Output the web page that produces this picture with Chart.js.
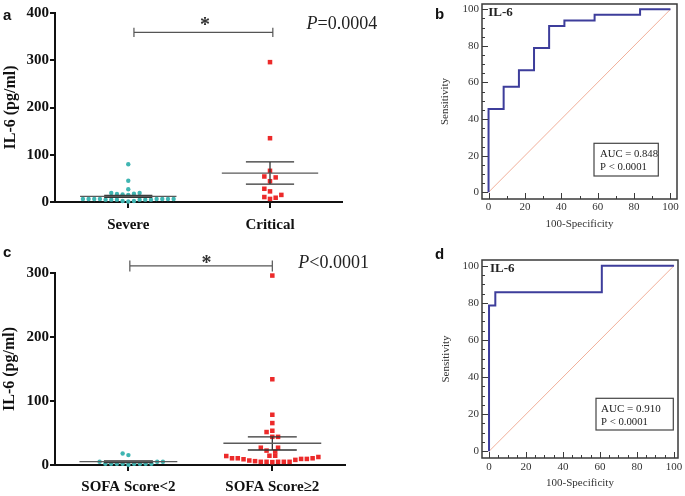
<!DOCTYPE html>
<html>
<head>
<meta charset="utf-8">
<script src="https://cdn.jsdelivr.net/npm/chart.js@4.4.1/dist/chart.umd.min.js"></script>
<style>
  body { margin: 0; background: #fff; }
  .panel { position: absolute; }
</style>
</head>
<body>
<div class="panel" style="left:0;top:0"><canvas id="chartA" width="390" height="240"></canvas></div>
<div class="panel" style="left:420px;top:0"><canvas id="chartB" width="265" height="240"></canvas></div>
<div class="panel" style="left:0;top:245px"><canvas id="chartC" width="390" height="251"></canvas></div>
<div class="panel" style="left:420px;top:245px"><canvas id="chartD" width="265" height="251"></canvas></div>
<script>
// panel a: severe vs critical
const groupsA = ['Severe', 'Critical'];
const severeIL6 = [80, 45, 27, 19, 17, 16, 15, 17.5, 19, 6.5, 6.5, 6.5, 6.5, 5, 5, 5, 2, 1, 2, 5, 5, 5, 6.5, 6.5, 6.5, 6.5];
const severeJitter = [0, 0, 0, -0.12, -0.08, -0.04, 0, 0.04, 0.08, -0.32, -0.28, -0.24, -0.2, -0.16, -0.12, -0.08, -0.04, 0, 0.04, 0.08, 0.12, 0.16, 0.2, 0.24, 0.28, 0.32];
const criticalIL6 = [296, 135, 66, 54, 52, 44, 28, 22.5, 15, 10.5, 6.5, 9];
const criticalJitter = [0, 0, 0, -0.04, 0.04, 0, -0.04, 0, 0.08, -0.04, 0, 0.04];
const meanA = [12, 61];
const semHighA = [14, 85];
const semLowA = [10, 38];
const yTicksA = [0, 100, 200, 300, 400];

// panel c: SOFA score groups
const groupsC = ['SOFA Score<2', 'SOFA Score\u22652'];
const sofaLowIL6 = [18, 15.5, 5, 5, 5, 2, 2, 2, 2, 2, 2, 2, 2, 0.5];
const sofaLowJitter = [-0.04, 0, -0.2, 0.2, 0.24, -0.16, -0.12, -0.08, -0.04, 0.04, 0.08, 0.12, 0.16, 0];
const sofaHighIL6 = [296, 134, 78.5, 65.5, 53.5, 51.5, 44, 44, 27, 27, 22.5, 21, 14.5, 14.5, 14, 10.5, 10.5, 9, 7, 6, 5, 5, 4.5, 5, 5, 5, 8, 9.5, 9.5, 10.5, 12.5];
const sofaHighJitter = [0, 0, 0, 0, 0, -0.04, 0, 0.04, -0.08, 0.04, -0.04, 0.02, -0.02, 0.02, -0.32, -0.28, -0.24, -0.2, -0.16, -0.12, -0.08, -0.04, 0, 0.04, 0.08, 0.12, 0.16, 0.2, 0.24, 0.28, 0.32];
const meanC = [5.2, 34];
const semHighC = [6.6, 43.8];
const semLowC = [3.8, 23.4];
const yTicksC = [0, 100, 200, 300];

// ROC curves
const rocB_fpr = [0, 8.3, 16.7, 25, 33.3, 41.7, 58.3, 83.3, 100];
const rocB_tpr = [0, 45.5, 57.6, 66.7, 78.8, 90.9, 93.9, 97, 100];
const rocD_fpr = [0, 3.4, 61, 100];
const rocD_tpr = [0, 78.6, 85.7, 100];
const rocTicks = [0, 20, 40, 60, 80, 100];

const SERIF = '"Liberation Serif", "Times New Roman", serif';
const SANS = '"Liberation Sans", Arial, sans-serif';
const TEAL = '#3fb5b2';
const RED = '#ec2a2a';

// free text drawn on top of each chart
const notes = {
  id: 'notes',
  afterDraw(chart, args, opts) {
    const ctx = chart.ctx;
    ctx.save();
    (opts.items || []).forEach((it) => {
      let x = it.x;
      ctx.textBaseline = 'alphabetic';
      ctx.fillStyle = it.color || '#111';
      const parts = it.parts || [{ t: it.text, font: it.font }];
      if (it.align === 'center') {
        let w = 0;
        parts.forEach((p) => { ctx.font = p.font; w += ctx.measureText(p.t).width; });
        x -= w / 2;
      }
      parts.forEach((p) => {
        ctx.font = p.font;
        if (it.maxWidth) ctx.fillText(p.t, x, it.y, it.maxWidth);
        else ctx.fillText(p.t, x, it.y);
        x += ctx.measureText(p.t).width;
      });
    });
    (opts.boxes || []).forEach((b) => {
      ctx.strokeStyle = '#444';
      ctx.lineWidth = 1.2;
      ctx.strokeRect(b.x, b.y, b.w, b.h);
    });
    ctx.restore();
  }
};

// box round the ROC plot with inward ticks
const rocFrame = {
  id: 'rocFrame',
  afterDatasetsDraw(chart, args, opts) {
    if (!opts.on) return;
    const { ctx, chartArea: a, scales: { x, y } } = chart;
    ctx.save();
    ctx.strokeStyle = '#3a3a3a';
    ctx.lineWidth = 1.5;
    ctx.strokeRect(a.left, a.top, a.right - a.left, a.bottom - a.top);
    ctx.lineWidth = 1;
    ctx.beginPath();
    for (let v = 0; v <= 100; v += opts.xMinor) {
      const len = v % 20 === 0 ? 6 : 3;
      const px = Math.round(x.getPixelForValue(v)) + 0.5;
      ctx.moveTo(px, a.bottom);
      ctx.lineTo(px, a.bottom - len);
    }
    for (let v = 0; v <= 100; v += opts.yMinor) {
      const len = v % 20 === 0 ? 6 : 3;
      const py = Math.round(y.getPixelForValue(v)) + 0.5;
      ctx.moveTo(a.left, py);
      ctx.lineTo(a.left + len, py);
    }
    ctx.stroke();
    ctx.restore();
  }
};

Chart.register(notes, rocFrame);

function fixSize(w, h) {
  return (scale) => {
    if (w != null) scale.width = w;
    if (h != null) scale.height = h;
    scale.paddingTop = 0;
    scale.paddingBottom = 0;
    scale.paddingLeft = 0;
    scale.paddingRight = 0;
  };
}

function lineSet(points, color, width) {
  return {
    data: points,
    showLine: true,
    borderColor: color,
    borderWidth: width,
    pointRadius: 0,
    spanGaps: false,
    clip: false,
    order: 1
  };
}

function dotChart(id, c) {
  const gap = { x: null, y: null };
  const meanPts = [];
  const semPts = [];
  c.mean.forEach((m, i) => {
    const cx = i + 1;
    meanPts.push({ x: cx - 0.34, y: m }, { x: cx + 0.34, y: m }, gap);
    semPts.push({ x: cx - 0.17, y: c.hi[i] }, { x: cx + 0.17, y: c.hi[i] }, gap);
    semPts.push({ x: cx - 0.17, y: c.lo[i] }, { x: cx + 0.17, y: c.lo[i] }, gap);
    semPts.push({ x: cx, y: c.hi[i] }, { x: cx, y: c.lo[i] }, gap);
  });
  const br = c.bracket;
  const bracketPts = [
    { x: br.x1, y: br.y - br.cap }, { x: br.x1, y: br.y + br.cap }, { x: br.x1, y: br.y },
    { x: br.x2, y: br.y }, { x: br.x2, y: br.y + br.cap }, { x: br.x2, y: br.y - br.cap }
  ];
  const pts = (vals, jit, g) => vals.map((v, i) => ({ x: g + jit[i], y: v }));

  new Chart(document.getElementById(id), {
    type: 'scatter',
    data: {
      datasets: [
        {
          data: pts(c.vals1, c.jit1, 1),
          pointStyle: 'circle',
          pointRadius: 2.2,
          pointBackgroundColor: TEAL,
          pointBorderWidth: 0,
          clip: false,
          order: 2
        },
        {
          data: pts(c.vals2, c.jit2, 2),
          pointStyle: 'rect',
          pointRadius: 3.2,
          pointBackgroundColor: RED,
          pointBorderWidth: 0,
          clip: false,
          order: 2
        },
        lineSet(meanPts, '#5a5a5a', 1.3),
        lineSet(semPts, '#333', 1.3),
        lineSet(bracketPts, '#555', 1.2)
      ]
    },
    options: {
      responsive: false,
      animation: false,
      events: [],
      layout: { padding: { top: c.area.top, right: c.area.right, left: 0, bottom: 0 } },
      plugins: {
        legend: { display: false },
        tooltip: { enabled: false },
        notes: { items: c.notes }
      },
      scales: {
        x: {
          type: 'linear',
          min: c.xMin,
          max: c.xMax,
          afterFit: fixSize(null, c.area.xH),
          afterBuildTicks: (s) => { s.ticks = [{ value: 1 }, { value: 2 }]; },
          border: { display: true, color: '#111', width: 2 },
          grid: { display: true, drawOnChartArea: false, drawTicks: true, tickLength: 6, color: '#111', lineWidth: 2 },
          ticks: {
            padding: c.xPad,
            color: '#111',
            font: { family: SERIF, size: 15, weight: 'bold' },
            callback: (v) => c.groups[v - 1]
          }
        },
        y: {
          min: 0,
          max: c.yMax,
          afterFit: fixSize(55, null),
          afterBuildTicks: (s) => { s.ticks = c.yTicks.map((v) => ({ value: v })); },
          border: { display: true, color: '#111', width: 2 },
          grid: { display: true, drawOnChartArea: false, drawTicks: true, tickLength: 5, color: '#111', lineWidth: 2 },
          ticks: { padding: 1, color: '#111', font: { family: SERIF, size: 15, weight: 'bold' } },
          title: {
            display: true,
            text: 'IL-6 (pg/ml)',
            color: '#111',
            font: { family: SERIF, size: 16, weight: 'bold' },
            padding: { top: c.titlePad, bottom: 0 }
          }
        }
      }
    }
  });
}

function rocChart(id, c) {
  new Chart(document.getElementById(id), {
    type: 'scatter',
    data: {
      datasets: [
        {
          data: c.fpr.map((v, i) => ({ x: v, y: c.tpr[i] })),
          showLine: true,
          stepped: 'after',
          borderColor: '#3d3d9b',
          borderWidth: 2,
          pointRadius: 0,
          clip: false
        },
        {
          data: [{ x: 0, y: 0 }, { x: 100, y: 100 }],
          showLine: true,
          borderColor: '#ee9a80',
          borderWidth: 0.8,
          pointRadius: 0
        }
      ]
    },
    options: {
      responsive: false,
      animation: false,
      events: [],
      layout: { padding: { top: c.area.top, right: c.area.right, left: 0, bottom: 0 } },
      plugins: {
        legend: { display: false },
        tooltip: { enabled: false },
        notes: { items: c.notes, boxes: [c.aucBox] },
        rocFrame: { on: true, xMinor: c.xMinor, yMinor: c.yMinor }
      },
      scales: {
        x: {
          type: 'linear',
          min: c.xRange[0],
          max: c.xRange[1],
          afterFit: fixSize(null, c.area.xH),
          afterBuildTicks: (s) => { s.ticks = rocTicks.map((v) => ({ value: v })); },
          border: { display: false },
          grid: { display: false, drawTicks: false },
          ticks: { padding: c.xPad, color: '#333', font: { family: SERIF, size: 11 } },
          title: {
            display: true,
            text: '100-Specificity',
            color: '#333',
            font: { family: SERIF, size: 11 },
            padding: { top: 0, bottom: c.xTitlePad }
          }
        },
        y: {
          min: c.yRange[0],
          max: c.yRange[1],
          afterFit: fixSize(c.area.yW, null),
          afterBuildTicks: (s) => { s.ticks = rocTicks.map((v) => ({ value: v })); },
          border: { display: false },
          grid: { display: false, drawTicks: false },
          ticks: { padding: 3, color: '#333', font: { family: SERIF, size: 11 } },
          title: {
            display: true,
            text: 'Sensitivity',
            color: '#333',
            font: { family: SERIF, size: 11 },
            padding: { top: c.yTitlePad, bottom: 0 }
          }
        }
      }
    }
  });
}

const star = 'bold 20px ' + SERIF;
const pFont = '18px ' + SERIF;
const pItal = 'italic 18px ' + SERIF;
const letter = 'bold 15px ' + SANS;
const small = '11px ' + SERIF;
const il6 = 'bold 13px ' + SERIF;

dotChart('chartA', {
  groups: groupsA,
  vals1: severeIL6, jit1: severeJitter,
  vals2: criticalIL6, jit2: criticalJitter,
  mean: meanA, hi: semHighA, lo: semLowA,
  yTicks: yTicksA, yMax: 400,
  xMin: 0.483, xMax: 2.508,
  area: { top: 13, right: 48, xH: 38 },
  xPad: 8, titlePad: 1.5,
  bracket: { x1: 1.04, x2: 2.02, y: 359, cap: 10 },
  notes: [
    { text: 'a', font: letter, x: 3, y: 19.5 },
    { text: '*', font: star, x: 205, y: 30.5, align: 'center', color: '#333' },
    { parts: [{ t: 'P', font: pItal }, { t: '=0.0004', font: pFont }], x: 306.5, y: 28.5, color: '#222' }
  ]
});

dotChart('chartC', {
  groups: groupsC,
  vals1: sofaLowIL6, jit1: sofaLowJitter,
  vals2: sofaHighIL6, jit2: sofaHighJitter,
  mean: meanC, hi: semHighC, lo: semLowC,
  yTicks: yTicksC, yMax: 300,
  xMin: 0.49, xMax: 2.505,
  area: { top: 28, right: 45, xH: 31 },
  xPad: 7, titlePad: 0.5,
  bracket: { x1: 1.01, x2: 2.0, y: 311, cap: 8.5 },
  notes: [
    { text: 'c', font: letter, x: 3, y: 11.7 },
    { text: '*', font: star, x: 206.5, y: 23.5, align: 'center', color: '#333' },
    { parts: [{ t: 'P', font: pItal }, { t: '<0.0001', font: pFont }], x: 298.3, y: 23.3, color: '#222' }
  ]
});

rocChart('chartB', {
  fpr: rocB_fpr, tpr: rocB_tpr,
  xRange: [-3.6, 103.6], yRange: [-3.7, 102.9],
  area: { top: 4, right: 8, xH: 41, yW: 62 },
  xPad: 2, xTitlePad: 9.4, yTitlePad: 18.4,
  xMinor: 10, yMinor: 5,
  aucBox: { x: 174, y: 143.3, w: 64.3, h: 32.7 },
  notes: [
    { text: 'b', font: letter, x: 15, y: 19.3 },
    { text: 'IL-6', font: il6, x: 68.3, y: 16, color: '#222' },
    { text: 'AUC = 0.848', font: small, x: 180, y: 157.2, color: '#222', maxWidth: 58 },
    { text: 'P < 0.0001', font: small, x: 180, y: 169.6, color: '#222', maxWidth: 47 }
  ]
});

rocChart('chartD', {
  fpr: rocD_fpr, tpr: rocD_tpr,
  xRange: [-3.8, 102.2], yRange: [-3.6, 103.1],
  area: { top: 15, right: 7, xH: 38, yW: 62 },
  xPad: 2.4, xTitlePad: 6.1, yTitlePad: 20,
  xMinor: 5, yMinor: 5,
  aucBox: { x: 176, y: 153.3, w: 77.3, h: 31.7 },
  notes: [
    { text: 'd', font: letter, x: 15, y: 14 },
    { text: 'IL-6', font: il6, x: 70, y: 27.3, color: '#222' },
    { text: 'AUC = 0.910', font: small, x: 181, y: 167.2, color: '#222', maxWidth: 60 },
    { text: 'P < 0.0001', font: small, x: 181, y: 179.8, color: '#222', maxWidth: 47 }
  ]
});
</script>
</body>
</html>
